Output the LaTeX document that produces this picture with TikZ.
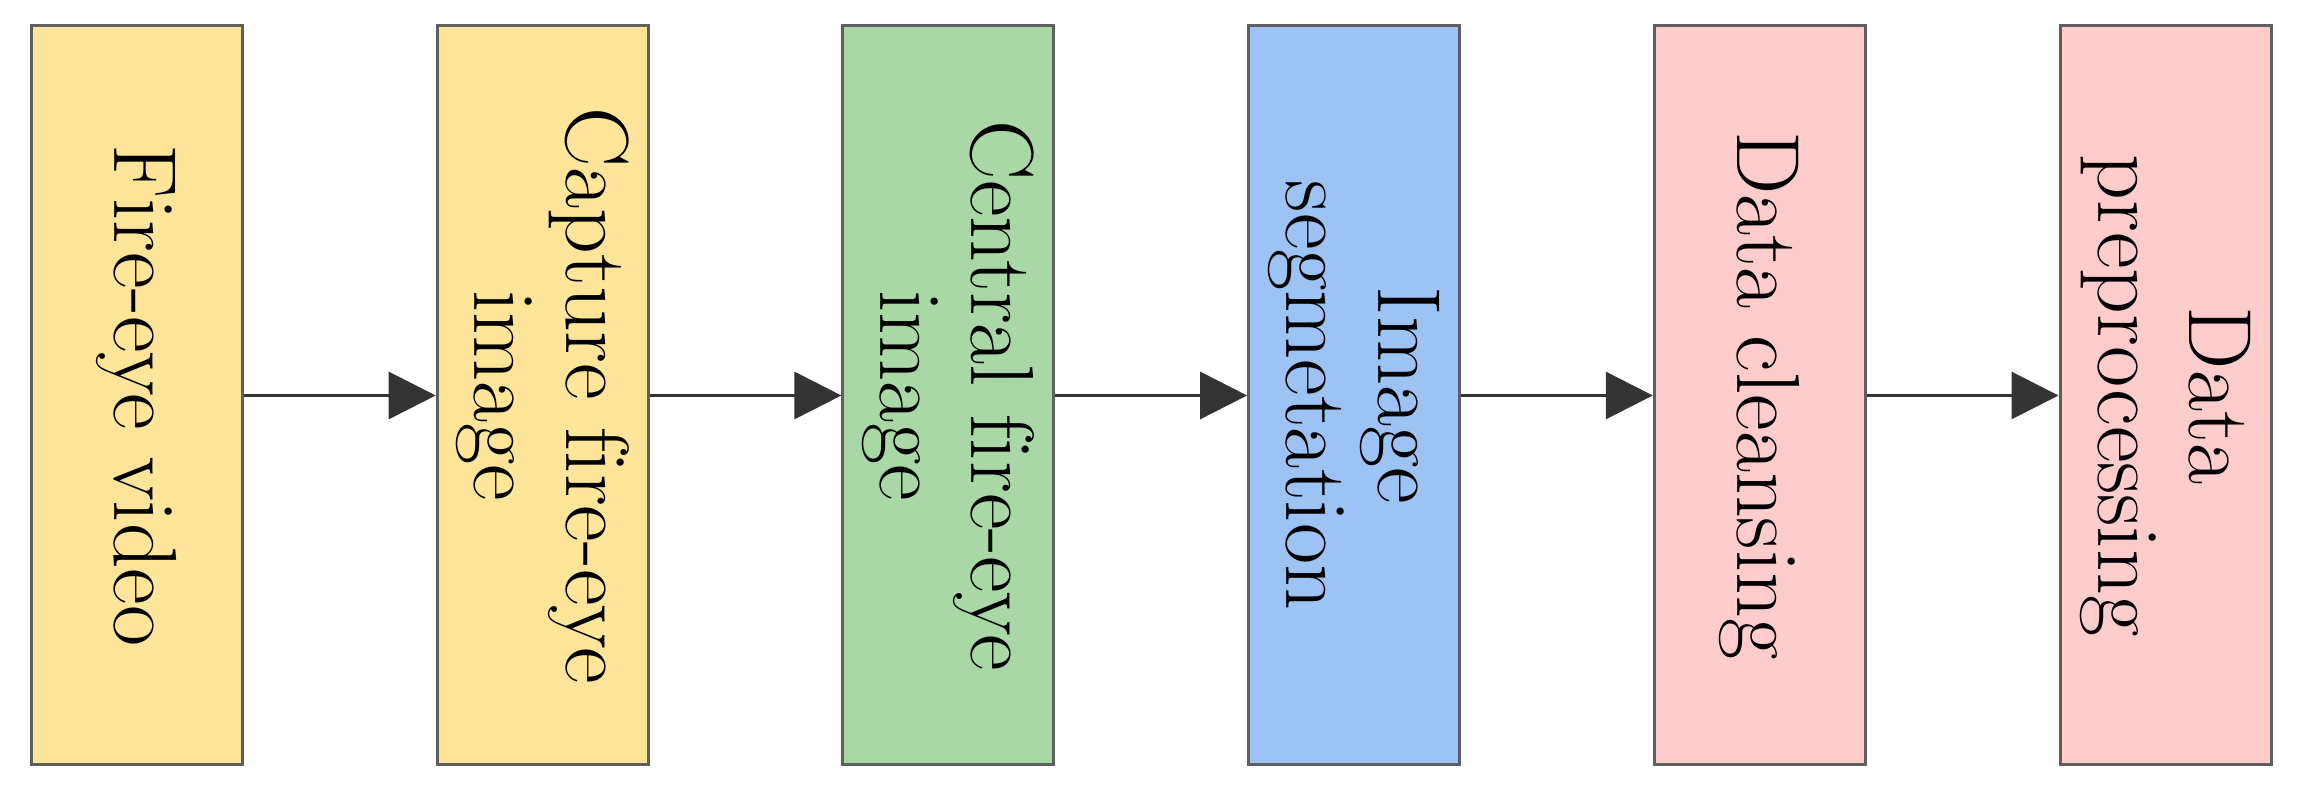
\documentclass[tikz,border=0pt]{standalone}
\usetikzlibrary{arrows.meta}

\definecolor{stepyellow}{HTML}{FFE599}
\definecolor{stepgreen}{HTML}{A9D8A6}
\definecolor{stepblue}{HTML}{9DC3F5}
\definecolor{steppink}{HTML}{FFCCCC}
\definecolor{edgegray}{HTML}{5F5F5F}
\definecolor{arrowgray}{HTML}{333333}

\begin{document}
\begin{tikzpicture}[
    stepbox/.style={draw=edgegray,line width=0.85pt,rotate=-90,minimum width=7.39cm,
      minimum height=2.11cm,inner sep=0pt,align=center,
      font=\fontsize{25.5}{26}\selectfont},
    flow/.style={draw=arrowgray,line width=0.85pt,-{Triangle[length=4.7mm,width=4.7mm]}}
  ]
  \useasboundingbox (0,0) rectangle (22.97,7.97);

  \node[stepbox,fill=stepyellow] (video) at (1.37,4.015) {Fire-eye video};
  \node[stepbox,fill=stepyellow] (capture) at (5.427,4.015) {Capture f\kern0pt ire-eye\\image};
  \node[stepbox,fill=stepgreen] (central) at (9.484,4.015) {Central f\kern0pt ire-eye\\image};
  \node[stepbox,fill=stepblue] (segment) at (13.541,4.015) {Image\\segmetation};
  \node[stepbox,fill=steppink] (cleansing) at (17.598,4.015) {Data cleansing};
  \node[stepbox,fill=steppink] (preproc) at (21.655,4.015) {Data\\preprocessing};

  \draw[flow] (video) -- (capture);
  \draw[flow] (capture) -- (central);
  \draw[flow] (central) -- (segment);
  \draw[flow] (segment) -- (cleansing);
  \draw[flow] (cleansing) -- (preproc);
\end{tikzpicture}
\end{document}
